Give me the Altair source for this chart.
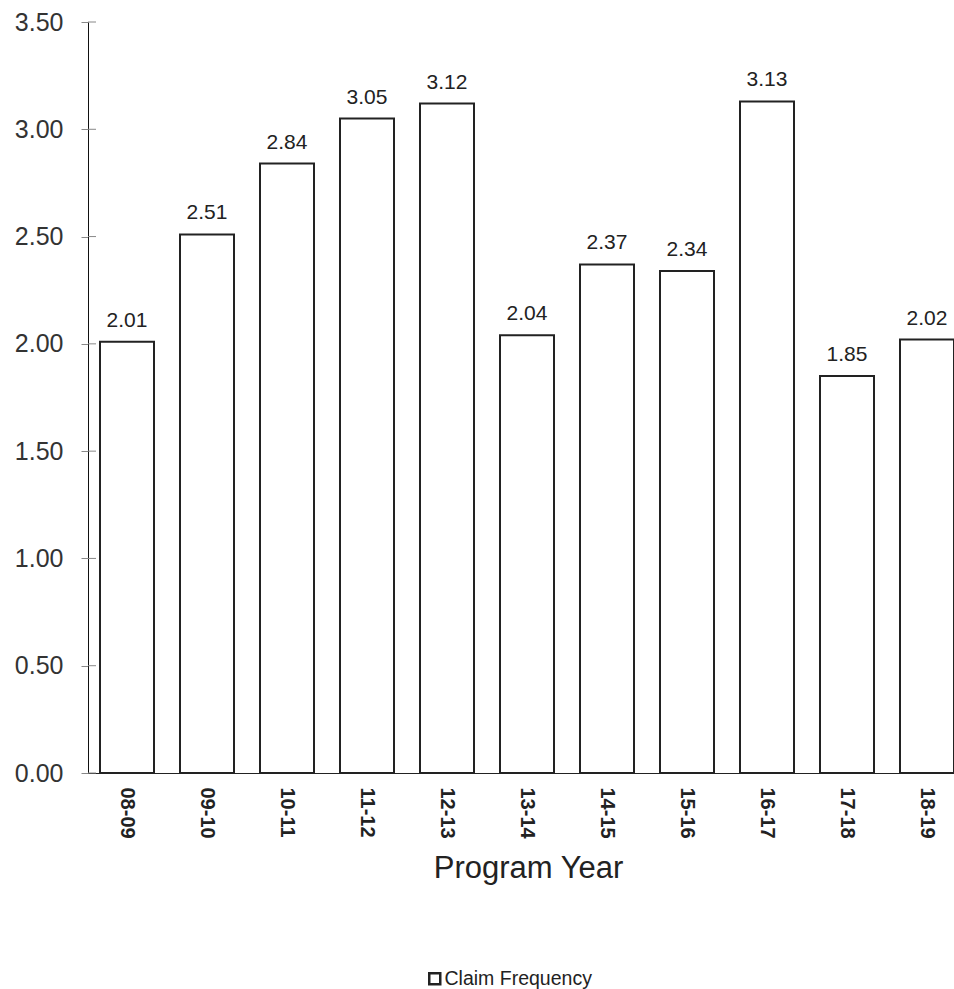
import altair as alt
import pandas as pd

years = ["08-09", "09-10", "10-11", "11-12", "12-13", "13-14",
         "14-15", "15-16", "16-17", "17-18", "18-19"]
freq = [2.01, 2.51, 2.84, 3.05, 3.12, 2.04, 2.37, 2.34, 3.13, 1.85, 2.02]
series_name = "Claim Frequency"
y_ticks = [0.0, 0.5, 1.0, 1.5, 2.0, 2.5, 3.0, 3.5]

df = pd.DataFrame({"year": years, "freq": freq, "series": [series_name] * len(years)})
ticks_df = pd.DataFrame({"t": y_ticks})

FONT = "Liberation Sans"

x_enc = alt.X(
    "year:N",
    sort=years,
    scale=alt.Scale(paddingInner=0.325, paddingOuter=0.075, align=1),
    axis=alt.Axis(
        title="Program Year",
        titleFontSize=31,
        titleFontWeight="normal",
        titleColor="#222222",
        titleFont=FONT,
        titleBaseline="alphabetic",
        titleY=104,
        titleX=440,
        labelAngle=90,
        labelFontSize=20,
        labelFontWeight="bold",
        labelFont=FONT,
        labelColor="#222222",
        labelPadding=14,
        ticks=False,
        domainColor="#222222",
        domainWidth=1,
        grid=False,
    ),
)

y_scale = alt.Scale(domain=[0, 3.5], nice=False, zero=True)
y_enc = alt.Y(
    "freq:Q",
    scale=y_scale,
    axis=alt.Axis(
        title=None,
        values=y_ticks,
        format=".2f",
        labelFontSize=25,
        labelFont=FONT,
        labelColor="#333333",
        labelPadding=18,
        tickSize=7,
        tickColor="#888888",
        domainColor="#111111",
        domainWidth=1,
        grid=False,
    ),
)

bars = alt.Chart(df).mark_bar(stroke="#222222", strokeWidth=2).encode(
    x=x_enc,
    y=y_enc,
    color=alt.Color(
        "series:N",
        scale=alt.Scale(domain=[series_name], range=["white"]),
        legend=alt.Legend(
            title=None,
            orient="none",
            legendX=337,
            legendY=947,
            symbolType="square",
            symbolSize=121,
            symbolStrokeColor="#222222",
            symbolStrokeWidth=2.5,
            symbolFillColor="white",
            labelFontSize=19.5,
            labelFont=FONT,
            labelColor="#222222",
            labelOffset=0,
        ),
    ),
)

labels = alt.Chart(df).mark_text(
    dy=-15, baseline="alphabetic", fontSize=21, font=FONT, color="#222222"
).encode(
    x=alt.X("year:N", sort=years),
    y=alt.Y("freq:Q", scale=y_scale),
    text=alt.Text("freq:Q", format=".2f"),
)

inner_ticks = alt.Chart(ticks_df).mark_rule(color="#888888", strokeWidth=1).encode(
    y=alt.Y("t:Q", scale=y_scale),
    x=alt.value(0),
    x2=alt.value(8),
)

chart = alt.layer(bars, labels, inner_ticks).properties(
    width=866,
    height=751,
    background="white",
    autosize=alt.AutoSizeParams(type="none"),
    padding={"left": 88, "top": 22, "right": 0, "bottom": 216},
).configure_view(strokeWidth=0)

chart.save("out.html", embed_options={"renderer": "svg", "actions": False})
